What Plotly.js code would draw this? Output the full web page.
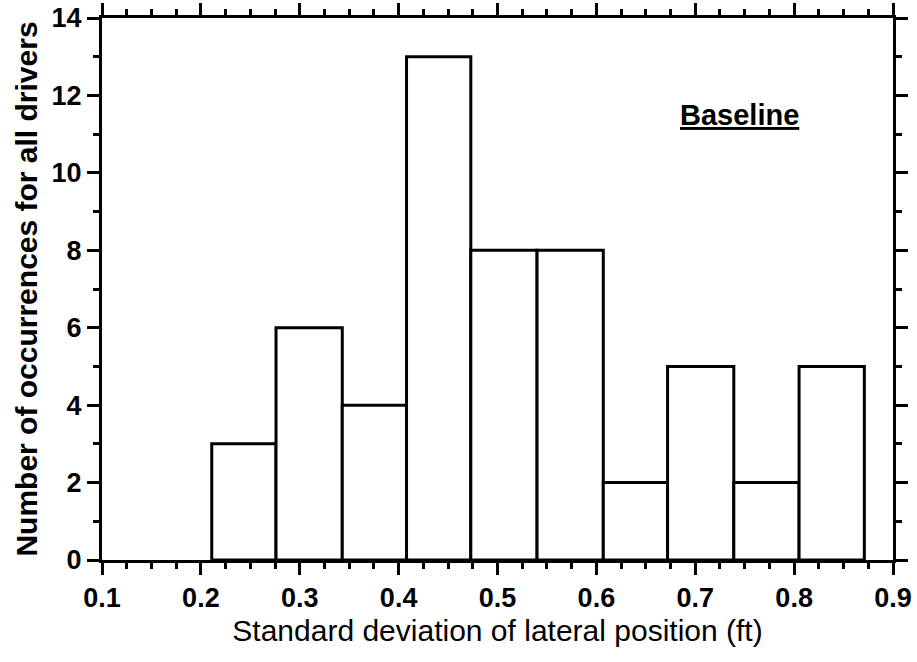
<!DOCTYPE html>
<html>
<head>
<meta charset="utf-8">
<script src="https://cdn.plot.ly/plotly-3.0.1.min.js"></script>
<style>
html,body{margin:0;padding:0;background:#fff;}
#chart{width:917px;height:662px;}
</style>
</head>
<body>
<div id="chart"></div>
<script>
// Histogram bin edges (ft) and counts
const binEdges = [0.211, 0.276, 0.343, 0.408, 0.473, 0.540, 0.607, 0.672, 0.739, 0.805, 0.871];
const counts = [3, 6, 4, 13, 8, 8, 2, 5, 2, 5];
const xTickVals = [0.1, 0.2, 0.3, 0.4, 0.5, 0.6, 0.7, 0.8, 0.9];
const xTickText = ["0.1", "0.2", "0.3", "0.4", "0.5", "0.6", "0.7", "0.8", "0.9"];
const yTickVals = [0, 2, 4, 6, 8, 10, 12, 14];
const xTitle = "Standard deviation of lateral position (ft)";
const yTitle = "Number of occurrences for all drivers";
const label = "Baseline";

const centers = counts.map((c, i) => (binEdges[i] + binEdges[i + 1]) / 2);
const widths = counts.map((c, i) => binEdges[i + 1] - binEdges[i]);

const font = "Liberation Sans, Arial, Helvetica, sans-serif";

const trace = {
  type: "bar",
  x: centers,
  y: counts,
  width: widths,
  marker: { color: "#ffffff", line: { color: "#000000", width: 3 } },
  hoverinfo: "skip"
};

const layout = {
  width: 917,
  height: 662,
  margin: { l: 102, r: 24, t: 18, b: 102 },
  paper_bgcolor: "#ffffff",
  plot_bgcolor: "#ffffff",
  showlegend: false,
  bargap: 0,
  xaxis: {
    range: [0.1, 0.9],
    tickvals: xTickVals,
    ticktext: xTickText,
    ticks: "outside",
    ticklen: 12,
    tickwidth: 3,
    tickcolor: "#000",
    showline: true,
    linewidth: 3,
    linecolor: "#000",
    mirror: "allticks",
    showgrid: false,
    zeroline: false,
    minor: { dtick: 0.025, tick0: 0.1, ticks: "outside", ticklen: 6, tickwidth: 3, tickcolor: "#000", showgrid: false },
    tickfont: { family: font, size: 27, color: "#000", weight: "bold" },
    title: { text: xTitle, font: { family: font, size: 30, color: "#000" }, standoff: 8 }
  },
  yaxis: {
    range: [0, 14],
    tickvals: yTickVals,
    ticks: "outside",
    ticklen: 12,
    tickwidth: 3,
    tickcolor: "#000",
    showline: true,
    linewidth: 3,
    linecolor: "#000",
    mirror: "allticks",
    showgrid: false,
    zeroline: false,
    minor: { dtick: 1, tick0: 0, ticks: "outside", ticklen: 6, tickwidth: 3, tickcolor: "#000", showgrid: false },
    tickfont: { family: font, size: 27, color: "#000", weight: "bold" },
    title: { text: yTitle, font: { family: font, size: 30, color: "#000", weight: "bold" }, standoff: 6 }
  },
  annotations: [{
    x: 0.745, y: 11.5, xref: "x", yref: "y",
    text: "<u>" + label + "</u>",
    showarrow: false,
    font: { family: font, size: 29, color: "#000", weight: "bold" }
  }]
};

Plotly.newPlot("chart", [trace], layout, { displayModeBar: false, staticPlot: true });
</script>
</body>
</html>
